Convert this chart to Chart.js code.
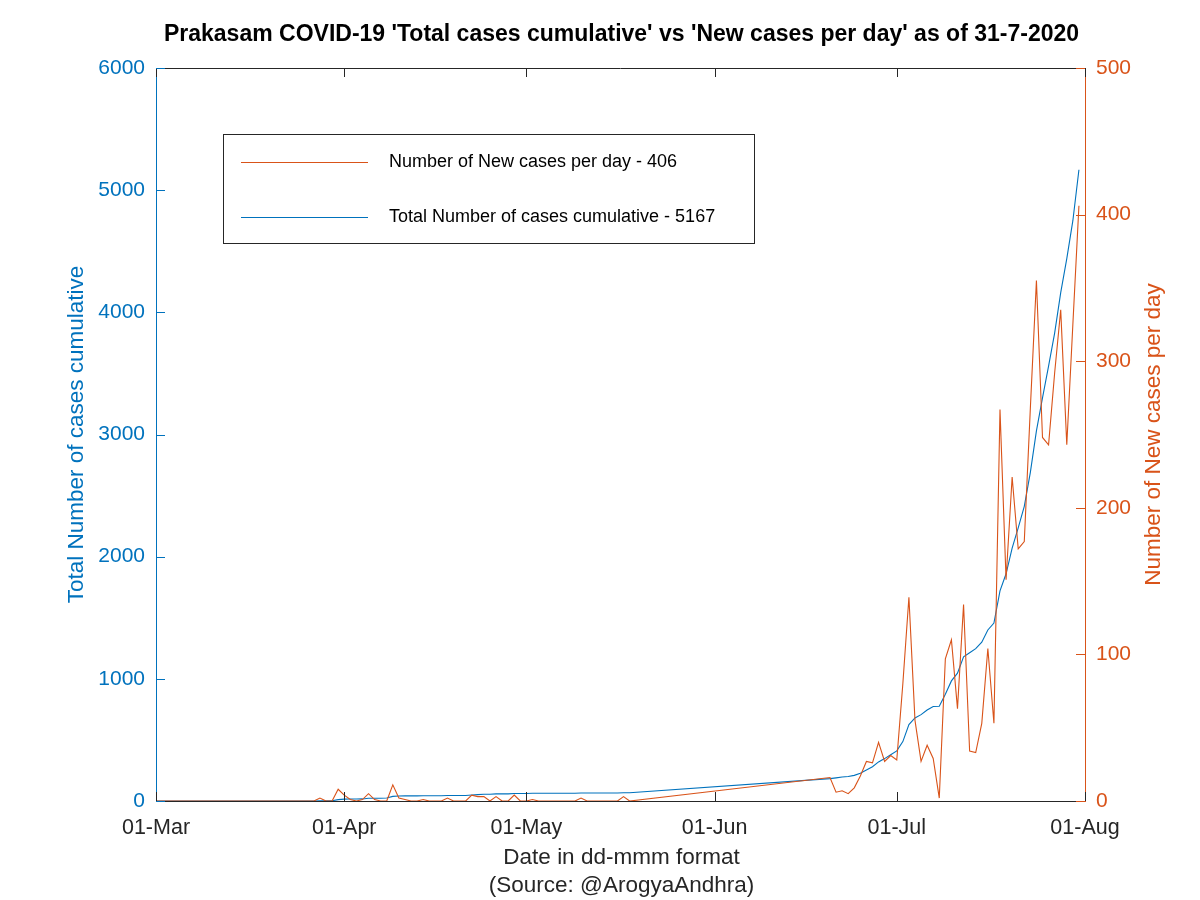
<!DOCTYPE html>
<html>
<head>
<meta charset="utf-8">
<script src="https://cdn.jsdelivr.net/npm/chart.js@4.4.1/dist/chart.umd.min.js"></script>
<style>
  html, body { margin: 0; padding: 0; background: #ffffff; }
  #wrap { width: 1200px; height: 900px; }
</style>
</head>
<body>
<div id="wrap"><canvas id="c" width="1200" height="900"></canvas></div>
<script>
// ---------------- DATA ----------------
const chartTitle = "Prakasam COVID-19 'Total cases cumulative' vs 'New cases per day' as of 31-7-2020";
const xAxisTitle = "Date in dd-mmm format";
const xAxisSubtitle = "(Source: @ArogyaAndhra)";
const leftAxisTitle = "Total Number of cases cumulative";
const rightAxisTitle = "Number of New cases per day";

const startDate = "2020-03-01";
const tickDates = ["2020-03-01", "2020-04-01", "2020-05-01", "2020-06-01", "2020-07-01", "2020-08-01"];
const tickLabels = ["01-Mar", "01-Apr", "01-May", "01-Jun", "01-Jul", "01-Aug"];

const dates = [
  "2020-03-01","2020-03-02","2020-03-03","2020-03-04","2020-03-05","2020-03-06","2020-03-07","2020-03-08","2020-03-09","2020-03-10",
  "2020-03-11","2020-03-12","2020-03-13","2020-03-14","2020-03-15","2020-03-16","2020-03-17","2020-03-18","2020-03-19","2020-03-20",
  "2020-03-21","2020-03-22","2020-03-23","2020-03-24","2020-03-25","2020-03-26","2020-03-27","2020-03-28","2020-03-29","2020-03-30","2020-03-31",
  "2020-04-01","2020-04-02","2020-04-03","2020-04-04","2020-04-05","2020-04-06","2020-04-07","2020-04-08","2020-04-09","2020-04-10",
  "2020-04-11","2020-04-12","2020-04-13","2020-04-14","2020-04-15","2020-04-16","2020-04-17","2020-04-18","2020-04-19","2020-04-20",
  "2020-04-21","2020-04-22","2020-04-23","2020-04-24","2020-04-25","2020-04-26","2020-04-27","2020-04-28","2020-04-29","2020-04-30",
  "2020-05-01","2020-05-02","2020-05-03","2020-05-04","2020-05-05","2020-05-06","2020-05-07","2020-05-08","2020-05-09","2020-05-10",
  "2020-05-11","2020-05-12","2020-05-13","2020-05-14","2020-05-15","2020-05-16","2020-05-17","2020-05-18",
  "2020-06-20","2020-06-21","2020-06-22","2020-06-23","2020-06-24","2020-06-25","2020-06-26","2020-06-27","2020-06-28","2020-06-29","2020-06-30",
  "2020-07-01","2020-07-02","2020-07-03","2020-07-04","2020-07-05","2020-07-06","2020-07-07","2020-07-08","2020-07-09","2020-07-10",
  "2020-07-11","2020-07-12","2020-07-13","2020-07-14","2020-07-15","2020-07-16","2020-07-17","2020-07-18","2020-07-19","2020-07-20",
  "2020-07-21","2020-07-22","2020-07-23","2020-07-24","2020-07-25","2020-07-26","2020-07-27","2020-07-28","2020-07-29","2020-07-30","2020-07-31"
];

const newCases = [
  0,0,0,0,0,0,0,0,0,0, 0,0,0,0,0,0,0,0,0,0, 0,0,0,0,0,0,0,2,0,0,8,
  4,1,0,1,5,1,0,0,11,2, 1,0,0,1,0,0,0,2,0,0, 0,4,3,3,0,3,0,0,4,0,
  0,1,0,0,0,0,0,0,0,2, 0,0,0,0,0,0,3,0,
  16,6,7,5,9,17,27,26,40,27,31,
  28,80,139,55,27,38,29,2,97,110, 63,134,34,33,53,104,53,267,151,221,
  172,177,268,355,248,243,292,335,243,325,406
];

const totalCases = [
  0,0,0,0,0,0,0,0,0,0, 0,0,0,0,0,0,0,0,0,0, 0,0,0,0,0,0,0,2,2,2,11,
  15,16,16,17,22,23,23,24,38,41, 42,42,42,43,43,43,43,45,45,45, 45,49,52,55,55,58,58,58,62,62,
  62,63,63,63,63,63,63,63,63,65, 65,65,65,65,65,65,68,68,
  183,189,196,201,210,227,254,280,320,347,378,
  410,486,625,680,707,745,774,776,873,983, 1046,1180,1214,1247,1300,1400,1457,1720,1860,2070,
  2235,2412,2690,3030,3300,3560,3830,4161,4440,4750,5167
];

const leftTicks = [0, 1000, 2000, 3000, 4000, 5000, 6000];
const rightTicks = [0, 100, 200, 300, 400, 500];

// ---------------- HELPERS ----------------
const DAY = 86400000;
const dayIndex = s => Math.round((Date.parse(s + "T00:00:00Z") - Date.parse(startDate + "T00:00:00Z")) / DAY);
const tickValues = tickDates.map(dayIndex);

const BLUE = "#0072BD";
const ORANGE = "#D95319";
const DARK = "#262626";
const FONT = "'Liberation Sans', Arial, Helvetica, sans-serif";
Chart.defaults.font.family = FONT;

const newLabel = "Number of New cases per day - " + newCases[newCases.length - 1];
const totalLabel = "Total Number of cases cumulative - " + totalCases[totalCases.length - 1];

const decor = {
  id: "decor",
  afterDraw(chart) {
    const ctx = chart.ctx;
    const a = chart.chartArea;
    const xs = chart.scales.x, yl = chart.scales.yL, yr = chart.scales.yR;
    const ln = (x1, y1, x2, y2) => { ctx.beginPath(); ctx.moveTo(x1, y1); ctx.lineTo(x2, y2); ctx.stroke(); };
    ctx.save();
    ctx.lineWidth = 1;
    // top box line
    ctx.strokeStyle = DARK;
    ln(a.left, a.top + 0.5, a.right, a.top + 0.5);
    // x ticks (inward, bottom and top)
    xs.ticks.forEach(t => {
      const px = Math.round(xs.getPixelForValue(t.value)) + 0.5;
      ln(px, a.bottom, px, a.bottom - 9);
      ln(px, a.top, px, a.top + 9);
    });
    // left ticks
    ctx.strokeStyle = BLUE;
    yl.ticks.forEach(t => {
      const py = Math.round(yl.getPixelForValue(t.value)) + 0.5;
      ln(a.left, py, a.left + 9, py);
    });
    // right ticks
    ctx.strokeStyle = ORANGE;
    yr.ticks.forEach(t => {
      const py = Math.round(yr.getPixelForValue(t.value)) + 0.5;
      ln(a.right, py, a.right - 9, py);
    });

    // title
    const cx = (a.left + a.right) / 2;
    const cy = (a.top + a.bottom) / 2;
    ctx.fillStyle = "#000000";
    ctx.textAlign = "center";
    ctx.textBaseline = "middle";
    ctx.font = "bold 23px " + FONT;
    ctx.fillText(chartTitle, cx + 1, 35);
    // x titles
    ctx.fillStyle = DARK;
    ctx.font = "22.5px " + FONT;
    ctx.fillText(xAxisTitle, cx + 1, 858);
    ctx.fillText(xAxisSubtitle, cx + 1, 886);
    // left title
    ctx.save();
    ctx.translate(77, cy);
    ctx.rotate(-Math.PI / 2);
    ctx.fillStyle = BLUE;
    ctx.fillText(leftAxisTitle, 0, 0);
    ctx.restore();
    // right title
    ctx.save();
    ctx.translate(1154, cy);
    ctx.rotate(-Math.PI / 2);
    ctx.fillStyle = ORANGE;
    ctx.fillText(rightAxisTitle, 0, 0);
    ctx.restore();

    // legend
    const bx = 223.5, by = 134.5, bw = 531, bh = 109;
    ctx.fillStyle = "#ffffff";
    ctx.fillRect(bx, by, bw, bh);
    ctx.strokeStyle = DARK;
    ctx.strokeRect(bx, by, bw, bh);
    const items = [chart.data.datasets[0], chart.data.datasets[1]];
    const rowsY = [162, 217];
    ctx.font = "18px " + FONT;
    ctx.textAlign = "left";
    items.forEach((ds, i) => {
      ctx.strokeStyle = ds.borderColor;
      ctx.lineWidth = 1;
      ln(241, rowsY[i] + 0.5, 368, rowsY[i] + 0.5);
      ctx.fillStyle = "#000000";
      ctx.fillText(ds.label, 389, rowsY[i]);
    });
    ctx.restore();
  }
};

const xVals = dates.map(dayIndex);

new Chart(document.getElementById("c"), {
  type: "line",
  data: {
    datasets: [
      {
        label: newLabel,
        data: xVals.map((x, i) => ({ x: x, y: newCases[i] })),
        yAxisID: "yR",
        borderColor: ORANGE,
        borderWidth: 1.1,
        pointRadius: 0,
        tension: 0,
        fill: false
      },
      {
        label: totalLabel,
        data: xVals.map((x, i) => ({ x: x, y: totalCases[i] })),
        yAxisID: "yL",
        borderColor: BLUE,
        borderWidth: 1.1,
        pointRadius: 0,
        tension: 0,
        fill: false
      }
    ]
  },
  options: {
    responsive: false,
    animation: false,
    devicePixelRatio: 1,
    layout: { padding: { top: 68, left: 0, right: 0, bottom: 0 } },
    plugins: {
      legend: { display: false },
      title: { display: false },
      tooltip: { enabled: false }
    },
    scales: {
      x: {
        type: "linear",
        min: tickValues[0],
        max: tickValues[tickValues.length - 1],
        grid: { display: false, drawTicks: false },
        border: { display: true, color: DARK, width: 1 },
        afterBuildTicks: s => { s.ticks = tickValues.map(v => ({ value: v })); },
        afterFit: s => { s.height = 99; },
        ticks: {
          autoSkip: false,
          maxRotation: 0,
          padding: 14,
          color: DARK,
          font: { size: 21.5 },
          callback: v => tickLabels[tickValues.indexOf(v)]
        }
      },
      yL: {
        type: "linear",
        position: "left",
        min: leftTicks[0],
        max: leftTicks[leftTicks.length - 1],
        grid: { display: false, drawTicks: false },
        border: { display: true, color: BLUE, width: 1 },
        afterBuildTicks: s => { s.ticks = leftTicks.map(v => ({ value: v })); },
        afterFit: s => { s.width = 156; },
        ticks: { padding: 11, color: BLUE, font: { size: 21 }, callback: v => String(v) }
      },
      yR: {
        type: "linear",
        position: "right",
        min: rightTicks[0],
        max: rightTicks[rightTicks.length - 1],
        grid: { display: false, drawTicks: false },
        border: { display: true, color: ORANGE, width: 1 },
        afterBuildTicks: s => { s.ticks = rightTicks.map(v => ({ value: v })); },
        afterFit: s => { s.width = 115; },
        ticks: { padding: 11, color: ORANGE, font: { size: 21 }, callback: v => String(v) }
      }
    }
  },
  plugins: [decor]
});
</script>
</body>
</html>
